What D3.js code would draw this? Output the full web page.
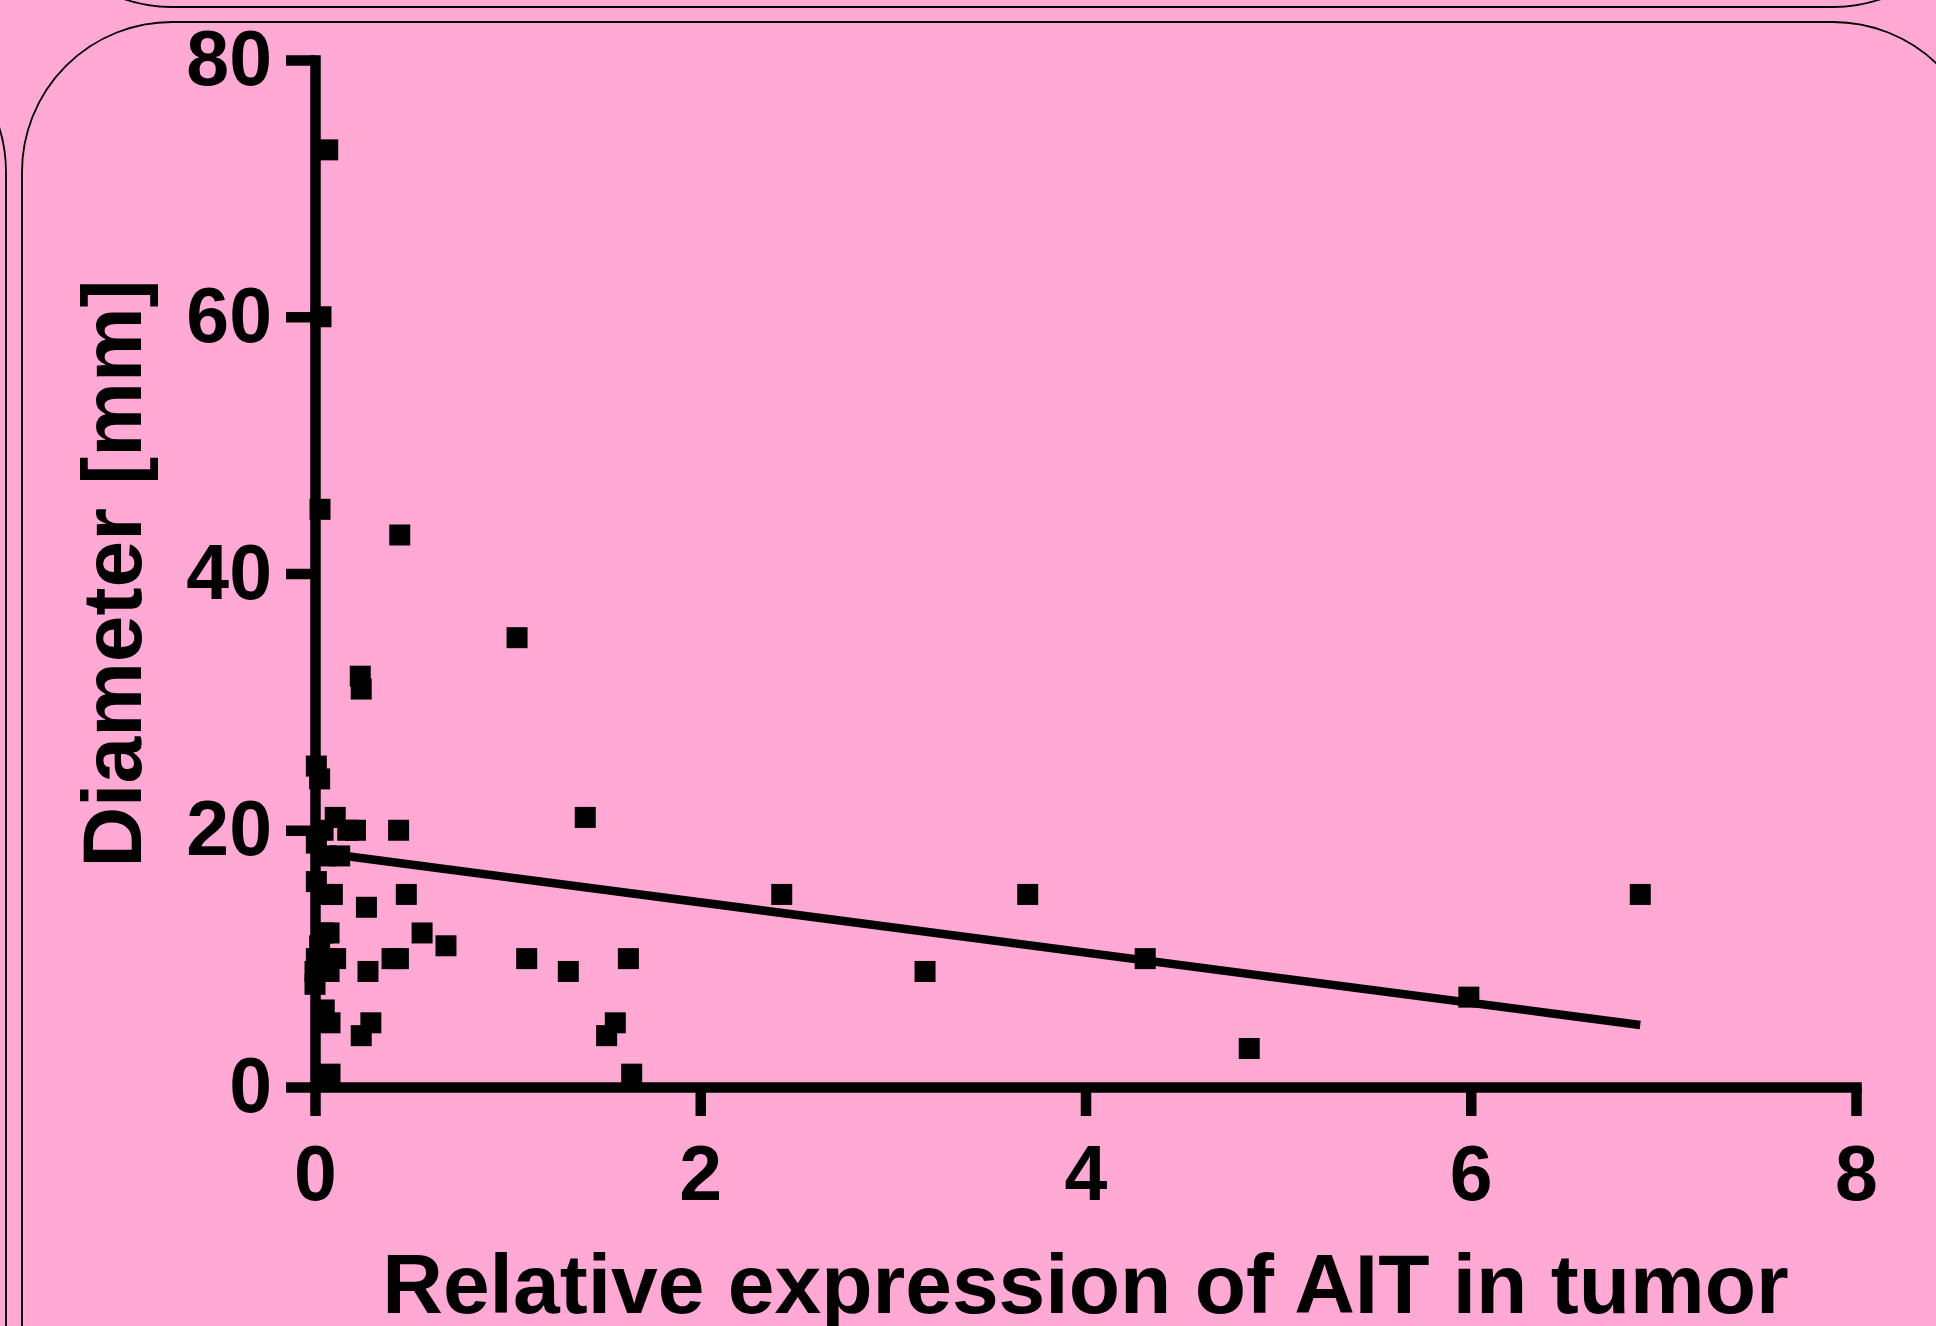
<!DOCTYPE html>
<html>
<head>
<meta charset="utf-8">
<script src="https://cdn.jsdelivr.net/npm/d3@7/dist/d3.min.js"></script>
<style>
  html, body { margin: 0; padding: 0; background: #ffa9d4; }
  svg { display: block; }
  text { font-family: "Liberation Sans", Arial, sans-serif; font-weight: bold; fill: #000; }
</style>
</head>
<body>
<script>
// ---- data ----
const xValues = [
  0.066, 0.031, 0.026, 0.44, 1.049, 0.235, 0.24,
  0.007, 0.024, 0.105, 0.042, 0.17, 0.21, 0.434, 1.403,
  0.007, 0.057, 0.128, 0.007, 0.045, 0.09, 0.474, 2.423, 3.70, 6.88,
  0.267, 0.045, 0.073, 0.556, 0.024, 0.68,
  0.007, 0.06, 0.107, 0.40, 0.433, 1.099, 1.627, 4.31,
  0.0, 0.073, 0.275, 1.315, 3.167, 0.0,
  5.99, 0.048, 0.078, 0.29, 1.559, 0.24, 1.514, 4.85, 0.078, 1.644
];
const yValues = [
  73, 60, 45, 43, 35, 32, 31,
  25, 24, 21, 20, 20, 20, 20, 21,
  19, 18, 18, 16, 15, 15, 15, 15, 15, 15,
  14, 12, 12, 12, 11, 11,
  10, 10, 10, 10, 10, 10, 10, 10,
  9, 9, 9, 9, 9, 8,
  7, 6, 5, 5, 5, 4, 4, 3, 1, 1
];
const fitX = [0, 6.88];
const fitY = [18.3, 4.83];
const xTicks = [0, 2, 4, 6, 8];
const yTicks = [0, 20, 40, 60, 80];
const xTitle = "Relative expression of AIT in tumor";
const yTitle = "Diameter [mm]";

// ---- layout ----
const W = 1936, H = 1326;
const svg = d3.select("body").append("svg").attr("width", W).attr("height", H);

// background panel outlines
const deco = svg.append("g").attr("fill", "none").attr("stroke", "#000").attr("stroke-width", 1.8);
deco.append("rect").attr("x", 22).attr("y", -600).attr("width", 1961).attr("height", 607).attr("rx", 150).attr("ry", 150);
deco.append("rect").attr("x", 22).attr("y", 22).attr("width", 1961).attr("height", 1600).attr("rx", 150).attr("ry", 150);
deco.append("rect").attr("x", -1000).attr("y", 22).attr("width", 1006).attr("height", 1600).attr("rx", 150).attr("ry", 150);

const x = d3.scaleLinear().domain([0, 8]).range([315, 1856]);
const y = d3.scaleLinear().domain([0, 80]).range([1087, 60]);

// axes
const gx = svg.append("g").attr("transform", `translate(0,${y(0)})`)
  .call(d3.axisBottom(x).tickValues(xTicks).tickSizeInner(29).tickSizeOuter(0).tickPadding(29).tickFormat(d3.format("d")));
const gy = svg.append("g").attr("transform", `translate(${x(0)},0)`)
  .call(d3.axisLeft(y).tickValues(yTicks).tickSizeInner(29).tickSizeOuter(0).tickPadding(14).tickFormat(d3.format("d")));

[gx, gy].forEach(g => {
  g.select(".domain").attr("stroke", "#000").attr("stroke-width", 10.5).attr("stroke-linecap", "square");
  g.selectAll(".tick line").attr("stroke", "#000").attr("stroke-width", 10.5);
  g.selectAll(".tick text").attr("font-size", 77).attr("font-family", "Liberation Sans, Arial, sans-serif").attr("font-weight", "bold").attr("fill", "#000");
});

// regression line
const line = d3.line().x(d => x(d[0])).y(d => y(d[1]));
svg.append("path").datum(d3.zip(fitX, fitY))
  .attr("d", line).attr("fill", "none").attr("stroke", "#000").attr("stroke-width", 8.5);

// points
const sym = d3.symbol(d3.symbolSquare, 21 * 21);
svg.append("g").selectAll("path").data(d3.zip(xValues, yValues)).join("path")
  .attr("transform", d => `translate(${x(d[0])},${y(d[1])})`)
  .attr("d", sym).attr("fill", "#000");

// titles
svg.append("text").attr("x", (x(0) + x(8)) / 2).attr("y", 1313)
  .attr("text-anchor", "middle").attr("font-size", 84).text(xTitle);
svg.append("text").attr("transform", `translate(141,${(y(0) + y(80)) / 2}) rotate(-90)`)
  .attr("text-anchor", "middle").attr("font-size", 84).text(yTitle);
</script>
</body>
</html>
